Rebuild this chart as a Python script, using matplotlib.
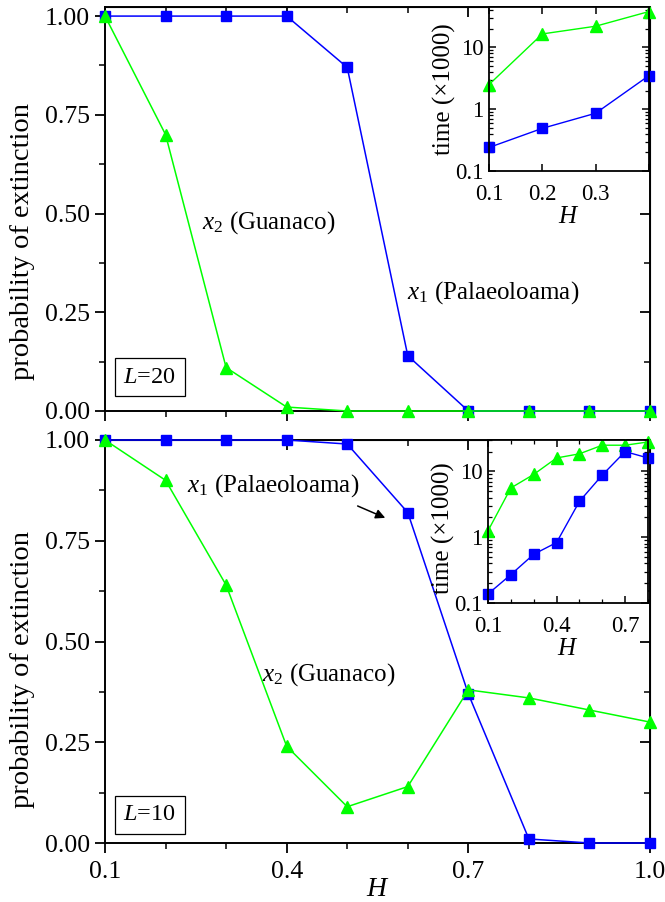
import numpy as np
import matplotlib
matplotlib.use('Agg')
import matplotlib.pyplot as plt
from matplotlib.ticker import MultipleLocator, FixedLocator, NullFormatter

plt.rcParams['font.family'] = ['Liberation Serif', 'DejaVu Serif']
plt.rcParams['mathtext.fontset'] = 'custom'
plt.rcParams['mathtext.rm'] = 'Liberation Serif'
plt.rcParams['mathtext.it'] = 'Liberation Serif:italic'

# main panels: probability of extinction vs H
H = [0.1, 0.2, 0.3, 0.4, 0.5, 0.6, 0.7, 0.8, 0.9, 1.0]
p1_L20 = [1.0, 1.0, 1.0, 1.0, 0.87, 0.14, 0.0, 0.0, 0.0, 0.0]
p2_L20 = [1.0, 0.70, 0.11, 0.01, 0.0, 0.0, 0.0, 0.0, 0.0, 0.0]
p1_L10 = [1.0, 1.0, 1.0, 1.0, 0.99, 0.82, 0.37, 0.01, 0.0, 0.0]
p2_L10 = [1.0, 0.90, 0.64, 0.24, 0.09, 0.14, 0.38, 0.36, 0.33, 0.30]

# insets: extinction time (x1000)
H_in20 = [0.1, 0.2, 0.3, 0.4]
t1_L20 = [0.24, 0.49, 0.86, 3.5]
t2_L20 = [2.5, 16.5, 22.0, 38.0]
H_in10 = [0.1, 0.2, 0.3, 0.4, 0.5, 0.6, 0.7, 0.8]
t1_L10 = [0.137, 0.27, 0.55, 0.83, 3.5, 8.8, 20.0, 16.0]
t2_L10 = [1.25, 5.6, 9.0, 16.0, 18.5, 25.0, 25.0, 28.0]

blue = '#0000ff'
green = '#00ff00'

fig = plt.figure(figsize=(6.65, 9.02), dpi=100)

W, Hf = 665.0, 902.0
def box(x0, y0, x1, y1):
    return [x0 / W, 1 - y1 / Hf, (x1 - x0) / W, (y1 - y0) / Hf]

ax_top = fig.add_axes(box(105, 7, 650, 411))
ax_bot = fig.add_axes(box(105, 440, 650, 843))


def style_main(ax, ytop, labels, ylab_y):
    ax.set_xlim(0.1, 1.0)
    ax.set_ylim(0, ytop)
    ax.xaxis.set_major_locator(FixedLocator([0.1, 0.4, 0.7, 1.0]))
    ax.xaxis.set_minor_locator(MultipleLocator(0.1))
    ax.yaxis.set_major_locator(MultipleLocator(0.25))
    ax.yaxis.set_minor_locator(MultipleLocator(0.125))
    ax.yaxis.set_major_formatter(lambda v, p: f'{v:.2f}')
    ax.tick_params(which='major', direction='out', length=7, width=1.3, labelsize=18.5)
    ax.tick_params(axis='x', which='major', pad=6)
    ax.tick_params(axis='y', which='major', pad=4)
    ax.tick_params(which='minor', direction='out', length=4, width=1.1)
    if labels:
        ax.xaxis.set_major_formatter(lambda v, p: f'{v:.1f}')
    else:
        ax.tick_params(labelbottom=False)
    for s in ax.spines.values():
        s.set_linewidth(1.4)
    sx = ax.secondary_xaxis('top')
    sx.xaxis.set_major_locator(FixedLocator([0.1, 0.4, 0.7, 1.0]))
    sx.xaxis.set_minor_locator(MultipleLocator(0.1))
    sx.tick_params(which='both', direction='in', labeltop=False)
    sx.tick_params(which='major', length=7, width=1.3)
    sx.tick_params(which='minor', length=4, width=1.1)
    sy = ax.secondary_yaxis('right')
    sy.yaxis.set_major_locator(MultipleLocator(0.25))
    sy.yaxis.set_minor_locator(MultipleLocator(0.125))
    sy.tick_params(which='both', direction='in', labelright=False)
    sy.tick_params(which='major', length=7, width=1.3)
    sy.tick_params(which='minor', length=4, width=1.1)
    ax.set_ylabel('probability of extinction', fontsize=20.5)
    ax.yaxis.set_label_coords(-0.128, ylab_y)


for ax, p1, p2, ytop, labels, ly in [(ax_top, p1_L20, p2_L20, 1.023, False, 0.42),
                                     (ax_bot, p1_L10, p2_L10, 1.0, True, 0.43)]:
    ax.plot(H, p1, color=blue, marker='s', markersize=7.5, lw=1.1, clip_on=False, zorder=3)
    ax.plot(H, p2, color=green, marker='^', markersize=9, lw=1.1, clip_on=False, zorder=3)
    style_main(ax, ytop, labels, ly)

ax_bot.set_xlabel('$H$', fontsize=20)
ax_bot.xaxis.set_label_coords(0.5, -0.085)

ax_top.text(0.26, 0.476, r'$x_{\mathit{2}}$ (Guanaco)', fontsize=18, va='center', ha='left')
ax_top.text(0.599, 0.299, r'$x_{\mathit{1}}$ (Palaeoloama)', fontsize=18, va='center', ha='left')
ax_bot.text(0.235, 0.886, r'$x_{\mathit{1}}$ (Palaeoloama)', fontsize=18, va='center', ha='left')
ax_bot.text(0.359, 0.417, r'$x_{\mathit{2}}$ (Guanaco)', fontsize=18, va='center', ha='left')
ax_bot.annotate('', xy=(0.567, 0.804), xytext=(0.513, 0.839),
                arrowprops=dict(arrowstyle='-|>', color='black', lw=1.1, mutation_scale=14))

for ax, lab, yc in [(ax_top, '$L$=20', 0.085), (ax_bot, '$L$=10', 0.07)]:
    ax.text(0.174, yc, lab, fontsize=17.5, ha='center', va='center',
            bbox=dict(boxstyle='square,pad=0.35', fc='white', ec='black', lw=0.9))


def style_inset(ax, xt, xl, xmin_loc, ylim, ly):
    ax.set_yscale('log')
    ax.set_ylim(*ylim)
    ax.set_xticks(xt)
    ax.set_xticklabels(xl)
    ax.xaxis.set_minor_locator(FixedLocator(xmin_loc))
    ax.set_yticks([0.1, 1, 10])
    ax.set_yticklabels(['0.1', '1', '10'])
    ax.yaxis.set_minor_formatter(NullFormatter())
    ax.tick_params(which='both', direction='in', top=True, right=True, labelsize=16.5)
    ax.tick_params(axis='x', which='major', pad=9)
    ax.tick_params(axis='y', which='major', pad=4)
    ax.tick_params(which='major', length=5, width=1.1)
    ax.tick_params(which='minor', length=3, width=0.9)
    for s in ax.spines.values():
        s.set_linewidth(1.3)
    ax.set_ylabel('time (\u00d71000)', fontsize=18)
    ax.yaxis.set_label_coords(-0.205, ly)
    ax.set_xlabel('$H$', fontsize=18, labelpad=1)


in_top = fig.add_axes(box(489, 7, 649, 171))
in_top.plot(H_in20, t1_L20, color=blue, marker='s', markersize=7, lw=1.0, clip_on=False)
in_top.plot(H_in20, t2_L20, color=green, marker='^', markersize=8.5, lw=1.0, clip_on=False)
in_top.set_xlim(0.1, 0.4)
style_inset(in_top, [0.1, 0.2, 0.3, 0.4], ['0.1', '0.2', '0.3', ''], [], (0.1, 45), 0.5)

in_bot = fig.add_axes(box(488, 440, 648, 603))
in_bot.plot(H_in10, t2_L10, color=green, marker='^', markersize=8.5, lw=1.0, clip_on=False)
in_bot.plot(H_in10, t1_L10, color=blue, marker='s', markersize=7, lw=1.0, clip_on=False)
in_bot.set_xlim(0.1, 0.8)
style_inset(in_bot, [0.1, 0.4, 0.7], ['0.1', '0.4', '0.7'], [0.2, 0.3, 0.5, 0.6, 0.8], (0.1, 30), 0.46)

fig.savefig('out.png', dpi=100)
